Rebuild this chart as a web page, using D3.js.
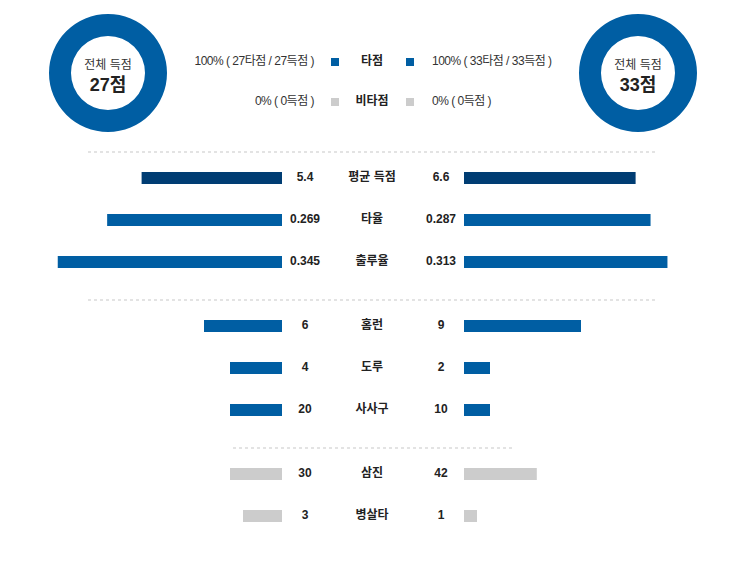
<!DOCTYPE html>
<html lang="ko">
<head>
<meta charset="UTF-8">
<title>팀 기록 비교</title>
<script src="https://d3js.org/d3.v7.min.js"></script>
<style>
    body { margin: 0; background: #fff; font-family: "Liberation Sans", Arial, "Noto Sans CJK KR", sans-serif; }
    text { fill: #222; }
    .num { font-size: 12px; font-weight: bold; }
    .cat { font-size: 12px; font-weight: bold; }
    .legend { font-size: 12px; letter-spacing: -0.5px; fill: #333; }
</style>
</head>
<body>
<div id="chart"></div>
<script>
    // 팀 총 득점 (타점 / 비타점)
    const totalRuns = [27, 33];
    const rbiRuns = [27, 33];
    const nonRbiRuns = [0, 0];

    // 항목별 기록
    const categories = ["평균 득점", "타율", "출루율", "홈런", "도루", "사사구", "삼진", "병살타"];
    const awayValues = [5.4, 0.269, 0.345, 6, 4, 20, 30, 3];
    const homeValues = [6.6, 0.287, 0.313, 9, 2, 10, 42, 1];
    const scaleMax = [10, 0.4, 0.4, 20, 20, 100, 150, 20];
    const groupOf = [0, 0, 0, 1, 1, 1, 2, 2];

    const width = 746, height = 569;
    const cx = 372;            // 가운데 라벨 위치
    const leftEnd = 282, rightStart = 464, barMax = 260, barH = 12;
    const blue = "#005ea3", navy = "#003d73", gray = "#cccccc";

    const svg = d3.select("#chart").append("svg")
        .attr("width", width).attr("height", height);

    // 도넛
    const donutX = [108, 638];
    const pie = d3.pie().sort(null);
    const arc = d3.arc().innerRadius(37).outerRadius(59);
    totalRuns.forEach((t, i) => {
        const g = svg.append("g").attr("transform", `translate(${donutX[i]},73)`);
        g.selectAll("path")
            .data(pie([rbiRuns[i], nonRbiRuns[i]]))
            .enter().append("path")
            .attr("d", arc)
            .attr("fill", (d, j) => j === 0 ? blue : gray);
        g.append("text").attr("text-anchor", "middle").attr("y", -4)
            .style("font-size", "12px").style("fill", "#333").text("전체 득점");
        g.append("text").attr("text-anchor", "middle").attr("y", 18)
            .style("font-size", "18px").style("font-weight", "bold").text(t + "점");
    });

    // 범례
    const pct = (a, b) => (b ? Math.round(a / b * 100) : 0) + "%";
    const legendRows = [
        { name: "타점", color: blue, y: 62,
          l: `${pct(rbiRuns[0], totalRuns[0])} ( ${rbiRuns[0]}타점 / ${totalRuns[0]}득점 )`,
          r: `${pct(rbiRuns[1], totalRuns[1])} ( ${rbiRuns[1]}타점 / ${totalRuns[1]}득점 )` },
        { name: "비타점", color: gray, y: 102,
          l: `${pct(nonRbiRuns[0], totalRuns[0])} ( ${nonRbiRuns[0]}득점 )`,
          r: `${pct(nonRbiRuns[1], totalRuns[1])} ( ${nonRbiRuns[1]}득점 )` }
    ];
    legendRows.forEach(r => {
        svg.append("text").attr("class", "legend").attr("x", 314).attr("y", r.y)
            .attr("text-anchor", "end").attr("dominant-baseline", "middle").text(r.l);
        svg.append("rect").attr("x", 331).attr("y", r.y - 4).attr("width", 8).attr("height", 8).attr("fill", r.color);
        svg.append("text").attr("class", "cat").attr("x", cx).attr("y", r.y)
            .attr("text-anchor", "middle").attr("dominant-baseline", "middle").text(r.name);
        svg.append("rect").attr("x", 406).attr("y", r.y - 4).attr("width", 8).attr("height", 8).attr("fill", r.color);
        svg.append("text").attr("class", "legend").attr("x", 432).attr("y", r.y)
            .attr("dominant-baseline", "middle").text(r.r);
    });

    // 구분선
    const seps = [[88, 655], [88, 655], [233, 512]];
    seps.forEach((s, g) => {
        svg.append("line")
            .attr("x1", s[0]).attr("x2", s[1])
            .attr("y1", 152 + g * 148).attr("y2", 152 + g * 148)
            .attr("stroke", "#e3e3e3").attr("stroke-width", 2)
            .attr("stroke-dasharray", "3,3");
    });

    // 막대
    const rowIdx = categories.map((c, i) => i - groupOf.indexOf(groupOf[i]));
    const rowY = i => 178 + groupOf[i] * 148 + rowIdx[i] * 42;
    const colorOf = i => i === 0 ? navy : (groupOf[i] === 2 ? gray : blue);

    categories.forEach((c, i) => {
        const x = d3.scaleLinear().domain([0, scaleMax[i]]).range([0, barMax]);
        const y = rowY(i);
        svg.append("rect").attr("x", leftEnd - x(awayValues[i])).attr("y", y - barH / 2)
            .attr("width", x(awayValues[i])).attr("height", barH).attr("fill", colorOf(i));
        svg.append("rect").attr("x", rightStart).attr("y", y - barH / 2)
            .attr("width", x(homeValues[i])).attr("height", barH).attr("fill", colorOf(i));
        svg.append("text").attr("class", "num").attr("x", 305).attr("y", y)
            .attr("text-anchor", "middle").attr("dominant-baseline", "middle").text(awayValues[i]);
        svg.append("text").attr("class", "cat").attr("x", cx).attr("y", y)
            .attr("text-anchor", "middle").attr("dominant-baseline", "middle").text(c);
        svg.append("text").attr("class", "num").attr("x", 441).attr("y", y)
            .attr("text-anchor", "middle").attr("dominant-baseline", "middle").text(homeValues[i]);
    });
</script>
</body>
</html>
